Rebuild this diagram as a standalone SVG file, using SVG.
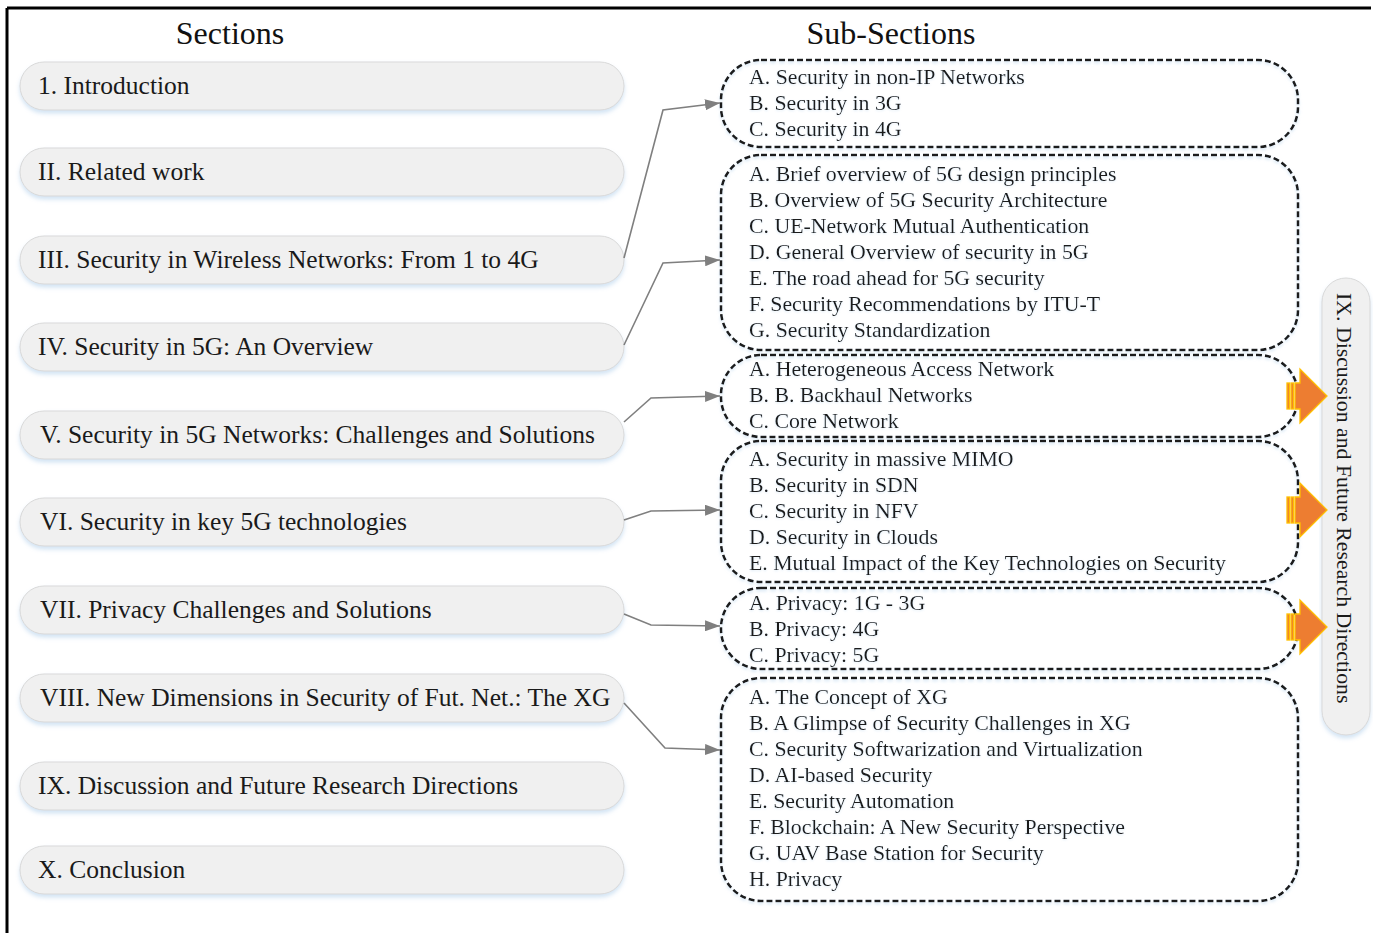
<svg xmlns="http://www.w3.org/2000/svg" width="1379" height="933" viewBox="0 0 1379 933">
  <defs>
    <style>
      .head { font-family: "Liberation Serif", "Times New Roman", serif; font-size: 32px; fill: #111; text-anchor: middle; }
      .sec-pill { fill: #f0f0f0; stroke: #d9d9d9; stroke-width: 1; filter: url(#pillShadow); }
      .sec-text { font-family: "Liberation Serif", "Times New Roman", serif; font-size: 25.5px; fill: #1a1a1a; }
      .sub-box { fill: none; stroke: #1a1a1a; stroke-width: 2.6; stroke-dasharray: 6 3; filter: url(#lineGlow); }
      .sub-text { font-family: "Liberation Serif", "Times New Roman", serif; font-size: 21.8px; fill: #1a1a1a; filter: url(#textGlow); }
      .conn { fill: none; stroke: #7f7f7f; stroke-width: 1.6; marker-end: url(#arrow); }
      .orange { fill: #ED7D31; stroke: #FFC000; stroke-width: 1.3; }
    </style>
    <marker id="arrow" viewBox="0 0 15 11" refX="15" refY="5.5" markerWidth="15" markerHeight="11" markerUnits="userSpaceOnUse" orient="auto">
      <path d="M0,0 L15,5.5 L0,11 z" fill="#7f7f7f"/>
    </marker>
    <filter id="pillShadow" x="-5%" y="-30%" width="110%" height="170%">
      <feGaussianBlur in="SourceAlpha" stdDeviation="2"/>
      <feOffset dx="0" dy="3" result="b"/>
      <feFlood flood-color="#9dc3e6" flood-opacity="0.45"/>
      <feComposite in2="b" operator="in"/>
      <feMerge><feMergeNode/><feMergeNode in="SourceGraphic"/></feMerge>
    </filter>
    <filter id="lineGlow" x="-5%" y="-10%" width="110%" height="120%">
      <feGaussianBlur in="SourceAlpha" stdDeviation="1.5"/>
      <feOffset dx="0" dy="1.5" result="b"/>
      <feFlood flood-color="#bdd7ee" flood-opacity="0.6"/>
      <feComposite in2="b" operator="in"/>
      <feMerge><feMergeNode/><feMergeNode in="SourceGraphic"/></feMerge>
    </filter>
    <filter id="textGlow" x="-5%" y="-30%" width="110%" height="160%">
      <feGaussianBlur in="SourceAlpha" stdDeviation="1.2"/>
      <feOffset dx="0" dy="1" result="b"/>
      <feFlood flood-color="#bdd7ee" flood-opacity="0.5"/>
      <feComposite in2="b" operator="in"/>
      <feMerge><feMergeNode/><feMergeNode in="SourceGraphic"/></feMerge>
    </filter>
  </defs>

  <rect width="1379" height="933" fill="#ffffff"/>

  <!-- frame -->
  <g id="frame" stroke="#000" stroke-width="3" fill="none">
    <line x1="7" y1="8" x2="1371" y2="8"/>
    <line x1="7" y1="8" x2="7" y2="933"/>
  </g>

  <!-- column headings -->
  <text class="head" x="230" y="44">Sections</text>
  <text class="head" x="891" y="44">Sub-Sections</text>

  <!-- sections -->
  <g id="sec-1"><rect class="sec-pill" x="20" y="62" width="604" height="48" rx="24"/><text class="sec-text" x="38" y="94">1. Introduction</text></g>
  <g id="sec-2"><rect class="sec-pill" x="20" y="148" width="604" height="48" rx="24"/><text class="sec-text" x="38" y="180">II. Related work</text></g>
  <g id="sec-3"><rect class="sec-pill" x="20" y="236" width="604" height="48" rx="24"/><text class="sec-text" x="38" y="268">III. Security in Wireless Networks: From 1 to 4G</text></g>
  <g id="sec-4"><rect class="sec-pill" x="20" y="323" width="604" height="48" rx="24"/><text class="sec-text" x="38" y="355">IV. Security in 5G: An Overview</text></g>
  <g id="sec-5"><rect class="sec-pill" x="20" y="411" width="604" height="48" rx="24"/><text class="sec-text" x="40" y="443">V. Security in 5G Networks: Challenges and Solutions</text></g>
  <g id="sec-6"><rect class="sec-pill" x="20" y="498" width="604" height="48" rx="24"/><text class="sec-text" x="40" y="530">VI. Security in key 5G technologies</text></g>
  <g id="sec-7"><rect class="sec-pill" x="20" y="586" width="604" height="48" rx="24"/><text class="sec-text" x="40" y="618">VII. Privacy Challenges and Solutions</text></g>
  <g id="sec-8"><rect class="sec-pill" x="20" y="674" width="604" height="48" rx="24"/><text class="sec-text" x="40" y="706">VIII. New Dimensions in Security of Fut. Net.: The XG</text></g>
  <g id="sec-9"><rect class="sec-pill" x="20" y="762" width="604" height="48" rx="24"/><text class="sec-text" x="38" y="794">IX. Discussion and Future Research Directions</text></g>
  <g id="sec-10"><rect class="sec-pill" x="20" y="846" width="604" height="48" rx="24"/><text class="sec-text" x="38" y="878">X. Conclusion</text></g>

  <!-- sub-section groups -->
  <g id="sub-3">
    <rect class="sub-box" x="721" y="60" width="577" height="87" rx="40"/>
    <text class="sub-text" x="749" y="84">A. Security in non-IP Networks</text>
    <text class="sub-text" x="749" y="110">B. Security in 3G</text>
    <text class="sub-text" x="749" y="136">C. Security in 4G</text>
  </g>
  <g id="sub-4">
    <rect class="sub-box" x="721" y="155" width="577" height="195" rx="40"/>
    <text class="sub-text" x="749" y="181">A. Brief overview of 5G design principles</text>
    <text class="sub-text" x="749" y="207">B. Overview of 5G Security Architecture</text>
    <text class="sub-text" x="749" y="233">C. UE-Network Mutual Authentication</text>
    <text class="sub-text" x="749" y="259">D. General Overview of security in 5G</text>
    <text class="sub-text" x="749" y="285">E. The road ahead for 5G security</text>
    <text class="sub-text" x="749" y="311">F. Security Recommendations by ITU-T</text>
    <text class="sub-text" x="749" y="337">G. Security Standardization</text>
  </g>
  <g id="sub-5">
    <rect class="sub-box" x="721" y="355" width="577" height="82" rx="40"/>
    <text class="sub-text" x="749" y="376">A. Heterogeneous Access Network</text>
    <text class="sub-text" x="749" y="402">B. B. Backhaul Networks</text>
    <text class="sub-text" x="749" y="428">C. Core Network</text>
  </g>
  <g id="sub-6">
    <rect class="sub-box" x="721" y="441" width="577" height="141" rx="40"/>
    <text class="sub-text" x="749" y="466">A. Security in massive MIMO</text>
    <text class="sub-text" x="749" y="492">B. Security in SDN</text>
    <text class="sub-text" x="749" y="518">C. Security in NFV</text>
    <text class="sub-text" x="749" y="544">D. Security in Clouds</text>
    <text class="sub-text" x="749" y="570">E. Mutual Impact of the Key Technologies on Security</text>
  </g>
  <g id="sub-7">
    <rect class="sub-box" x="721" y="588" width="577" height="81" rx="40"/>
    <text class="sub-text" x="749" y="610">A. Privacy: 1G - 3G</text>
    <text class="sub-text" x="749" y="636">B. Privacy: 4G</text>
    <text class="sub-text" x="749" y="662">C. Privacy: 5G</text>
  </g>
  <g id="sub-8">
    <rect class="sub-box" x="721" y="678" width="577" height="223" rx="40"/>
    <text class="sub-text" x="749" y="704">A. The Concept of XG</text>
    <text class="sub-text" x="749" y="730">B. A Glimpse of Security Challenges in XG</text>
    <text class="sub-text" x="749" y="756">C. Security Softwarization and Virtualization</text>
    <text class="sub-text" x="749" y="782">D. AI-based Security</text>
    <text class="sub-text" x="749" y="808">E. Security Automation</text>
    <text class="sub-text" x="749" y="834">F. Blockchain: A New Security Perspective</text>
    <text class="sub-text" x="749" y="860">G. UAV Base Station for Security</text>
    <text class="sub-text" x="749" y="886">H. Privacy</text>
  </g>

  <!-- vertical discussion node -->
  <g id="discussion">
    <rect class="sec-pill" x="1322" y="278" width="48" height="457" rx="24"/>
    <text class="sec-text" style="font-size:21.8px" transform="translate(1337,293) rotate(90)">IX. Discussion and Future Research Directions</text>
  </g>

  <!-- striped arrows into the discussion node -->
  <g id="orange-arrows">
    <g transform="translate(0,396)">
      <rect class="orange" x="1287" y="-13" width="2.5" height="26"/>
      <rect class="orange" x="1291" y="-13" width="2.5" height="26"/>
      <path class="orange" d="M1295,-13 H1300 V-27 L1327,0 L1300,27 V13 H1295 Z"/>
    </g>
    <g transform="translate(0,510)">
      <rect class="orange" x="1287" y="-13" width="2.5" height="26"/>
      <rect class="orange" x="1291" y="-13" width="2.5" height="26"/>
      <path class="orange" d="M1295,-13 H1300 V-27 L1327,0 L1300,27 V13 H1295 Z"/>
    </g>
    <g transform="translate(0,627)">
      <rect class="orange" x="1287" y="-13" width="2.5" height="26"/>
      <rect class="orange" x="1291" y="-13" width="2.5" height="26"/>
      <path class="orange" d="M1295,-13 H1300 V-27 L1327,0 L1300,27 V13 H1295 Z"/>
    </g>
  </g>

  <!-- connectors -->
  <g id="connectors">
    <polyline class="conn" points="624,258 663,110 720,103"/>
    <polyline class="conn" points="624,345 663,263 720,260"/>
    <polyline class="conn" points="624,422 651,398 720,396"/>
    <polyline class="conn" points="624,520 651,511 720,510"/>
    <polyline class="conn" points="624,614 651,625 720,626"/>
    <polyline class="conn" points="624,703 665,748 720,750"/>
  </g>
</svg>
